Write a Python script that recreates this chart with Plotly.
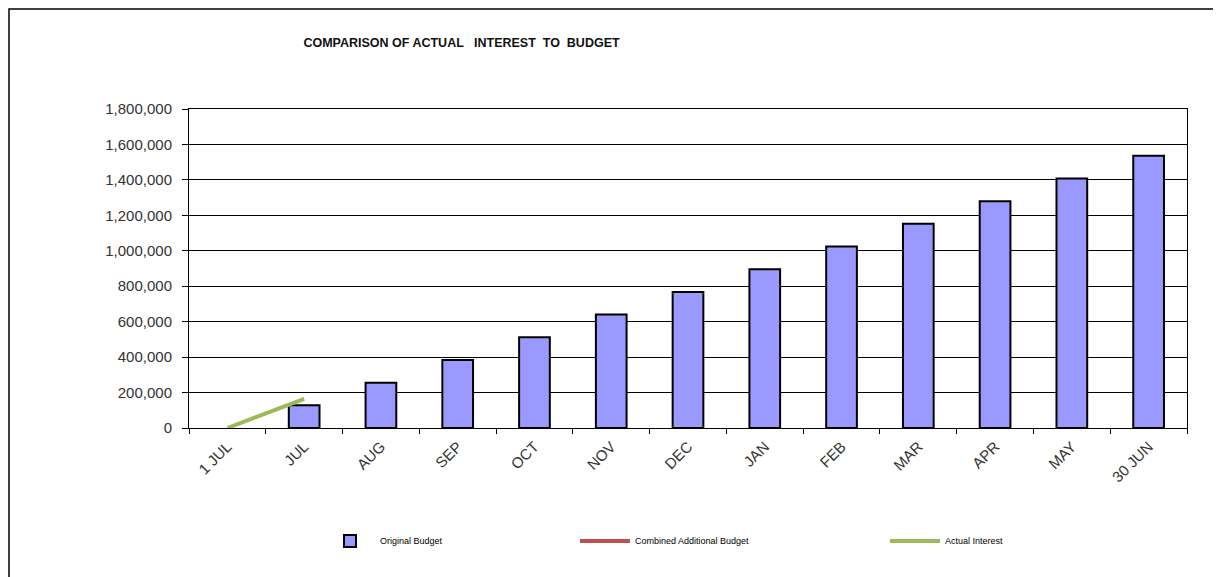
import plotly.graph_objects as go

categories = ["1 JUL", "JUL", "AUG", "SEP", "OCT", "NOV", "DEC", "JAN", "FEB", "MAR", "APR", "MAY", "30 JUN"]
original_budget = [None, 128000, 256000, 384000, 512000, 640000, 768000, 896000, 1024000, 1152000, 1280000, 1408000, 1536000]
combined_additional_budget = [None] * len(categories)
actual_interest = [0, 165000] + [None] * (len(categories) - 2)
y_tick_values = [0, 200000, 400000, 600000, 800000, 1000000, 1200000, 1400000, 1600000, 1800000]

font_family = "Liberation Sans, Arial, sans-serif"

fig = go.Figure()
fig.add_trace(go.Bar(
    x=categories, y=original_budget, name="Original Budget",
    marker=dict(color="#9999FF", line=dict(color="black", width=2)),
    legend="legend",
))
fig.add_trace(go.Scatter(
    x=categories, y=combined_additional_budget, name="Combined Additional Budget",
    mode="lines", line=dict(color="#C0504D", width=4),
    legend="legend2",
))
fig.add_trace(go.Scatter(
    x=categories, y=actual_interest, name="Actual Interest",
    mode="lines", line=dict(color="#9BBB59", width=4),
    legend="legend3",
))

legend_common = dict(
    orientation="h", y=-0.354, yanchor="middle",
    font=dict(size=9, color="black", family=font_family),
    itemwidth=50, bgcolor="rgba(0,0,0,0)",
)

fig.update_layout(
    width=1221, height=577,
    margin=dict(l=181, r=42, t=101, b=157),
    paper_bgcolor="white", plot_bgcolor="white",
    bargap=0.6,
    font=dict(family=font_family, color="#333333"),
    title=dict(
        text="<b>COMPARISON OF ACTUAL   INTEREST  TO  BUDGET</b>",
        xref="container", yref="container",
        x=(461.5 - 8) / 1221, xanchor="center", y=1 - (43 - 8) / 577, yanchor="middle",
        font=dict(size=12.5, color="#111111", family=font_family),
    ),
    legend=dict(x=(320 - 189) / 998, xanchor="left", **legend_common),
    legend2=dict(x=(575 - 189) / 998, xanchor="left", **legend_common),
    legend3=dict(x=(885 - 189) / 998, xanchor="left", **legend_common),
    showlegend=True,
)

fig.update_xaxes(
    type="category", tickangle=-45, tickson="boundaries",
    ticks="outside", ticklen=5, tickcolor="black",
    showline=True, linecolor="black", linewidth=1, mirror=True,
    showgrid=False, ticklabelstandoff=3,
    tickfont=dict(size=15, color="#333333"),
)
fig.update_yaxes(
    range=[0, 1800000], tickvals=y_tick_values, tickformat=",",
    ticks="outside", ticklen=6, tickcolor="black",
    showline=True, linecolor="black", linewidth=1, mirror=True,
    showgrid=True, gridcolor="black", gridwidth=1,
    ticklabelstandoff=7,
    tickfont=dict(size=15, color="#333333"),
    zeroline=False,
)

fig.add_shape(
    type="rect", xref="paper", yref="paper",
    x0=(9 - 189) / 998, x1=(1214 - 189) / 998,
    y0=(428 - 600) / 319, y1=(428 - 9) / 319,
    line=dict(color="black", width=1.5), fillcolor="rgba(0,0,0,0)", layer="below",
)

fig.write_html("out.html")
